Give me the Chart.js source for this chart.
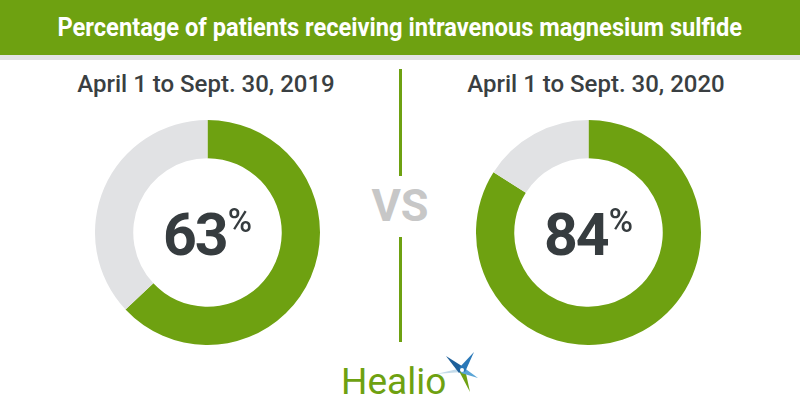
<!DOCTYPE html>
<html>
<head>
<meta charset="utf-8">
<script src="https://cdn.jsdelivr.net/npm/chart.js@4/dist/chart.umd.min.js"></script>
<style>
  html, body { margin: 0; padding: 0; background: #fff; }
  #wrap { position: relative; width: 800px; height: 420px; overflow: hidden; font-family: Roboto, "Noto Sans", sans-serif; }
  #header { position: absolute; left: 0; top: 0; width: 800px; height: 55px; background: #6ea111; }
  #headerLine { position: absolute; left: 0; top: 55px; width: 800px; height: 5px; background: #e3e3e5; }
  #title { position: absolute; left: 0; top: 13px; width: 800px; text-align: center; color: #fff;
           font-weight: 700; font-size: 25px; line-height: 30px; white-space: nowrap; }
  #title span { display: inline-block; transform-origin: center; }
  .period { position: absolute; top: 69px; width: 400px; text-align: center; color: #3a3f42;
            font-weight: 500; font-size: 24px; line-height: 30px; }
  .donut { position: absolute; top: 120px; }
  .pct { position: absolute; top: 205px; width: 225px; display: flex; justify-content: center; align-items: flex-start;
         color: #363c3f; }
  .pct .num { font-weight: 700; font-size: 59px; line-height: 59px; letter-spacing: -2px; }
  .pct .sign { font-weight: 500; font-size: 33px; line-height: 33px; margin-top: -1px; margin-left: 1px; }
  .divider { position: absolute; left: 399px; width: 3px; background: #6ea111; }
  #vs { position: absolute; left: 350px; top: 181px; width: 100px; text-align: center; color: #c7c7c7;
        font-weight: 700; font-size: 45px; line-height: 50px; }
  #logo { position: absolute; left: 341px; top: 360px; color: #6ea111; font-size: 37px; line-height: 44px; font-weight: 400; }
  #star { position: absolute; left: 430px; top: 345px; }
</style>
</head>
<body>
<div id="wrap">
  <div id="header"></div>
  <div id="headerLine"></div>
  <div id="title"><span id="titleText">Percentage of patients receiving intravenous magnesium sulfide</span></div>

  <div class="period" id="period0" style="left:6px"></div>
  <div class="period" id="period1" style="left:396px"></div>

  <canvas class="donut" id="donut0" width="225" height="225" style="left:95px"></canvas>
  <canvas class="donut" id="donut1" width="225" height="225" style="left:476px"></canvas>

  <div class="pct" id="pct0" style="left:95px"></div>
  <div class="pct" id="pct1" style="left:476px"></div>

  <div class="divider" style="top:69px;height:107px"></div>
  <div id="vs">VS</div>
  <div class="divider" style="top:237px;height:105px"></div>

  <div id="logo">Healio</div>
  <svg id="star" width="50" height="50" viewBox="0 0 50 50">
    <polygon points="6,29 32,23 32,27" fill="#c4dbea"/>
    <polygon points="40,47 35,24 29,26" fill="#6ea111"/>
    <polygon points="48,33 31,28 33,22" fill="#5aa5d6"/>
    <polygon points="16,11 35,23 29,28" fill="#1d5f9a"/>
    <polygon points="44,7 35,27 29,23" fill="#2a78b8"/>
    <circle cx="32" cy="25" r="2" fill="#ffffff"/>
  </svg>
</div>

<script>
// data
const periods = ['April 1 to Sept. 30, 2019', 'April 1 to Sept. 30, 2020'];
const receiving = [63, 84];
const sliceLabels = ['Receiving', 'Not receiving'];
const sliceColors = ['#6ea111', '#e1e2e4'];

// squeeze the title to the narrow width used in the graphic
const t = document.getElementById('titleText');
t.style.transform = 'scaleX(' + (685 / t.offsetWidth) + ')';

periods.forEach(function(label, i) {
    document.getElementById('period' + i).textContent = label;
    document.getElementById('pct' + i).innerHTML =
        '<span class="num">' + receiving[i] + '</span><span class="sign">%</span>';

    const ctx = document.getElementById('donut' + i).getContext('2d');
    new Chart(ctx, {
        type: 'doughnut',
        data: {
            labels: sliceLabels,
            datasets: [{
                data: [receiving[i], 100 - receiving[i]],
                backgroundColor: sliceColors,
                borderWidth: 0,
                hoverOffset: 0
            }]
        },
        options: {
            responsive: false,
            animation: false,
            cutout: '66%',
            layout: { padding: 0 },
            plugins: {
                legend: { display: false },
                tooltip: { enabled: false }
            }
        }
    });
});
</script>
</body>
</html>
